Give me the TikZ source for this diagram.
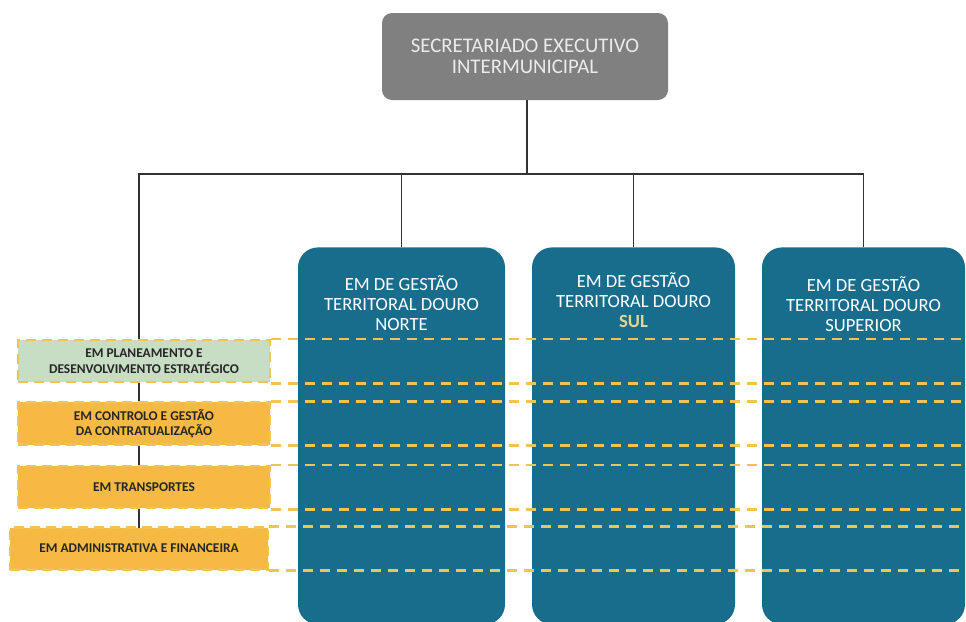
\documentclass[tikz,border=0pt]{standalone}
\usepackage{fontspec}
\setmainfont{Carlito}
\usetikzlibrary{backgrounds}

\definecolor{cinza}{RGB}{128,128,128}
\definecolor{azul}{RGB}{24,108,140}
\definecolor{verde}{RGB}{200,222,196}
\definecolor{laranja}{RGB}{246,186,68}
\definecolor{tracejado}{RGB}{240,196,84}
\definecolor{amarelo}{RGB}{226,214,150}

\tikzset{
   chefia/.style = {rectangle, rounded corners=5pt, fill=cinza, text=white!92!black, align=center,
      minimum width=143pt, minimum height=43.5pt, font=\fontsize{10.4}{10.6}\selectfont},
   gestao/.style = {rectangle, rounded corners=10pt, fill=azul, anchor=north,
      minimum height=188.5pt},
   gestaotxt/.style = {text=white, align=center, font=\fontsize{9.3}{10}\selectfont},
   equipa/.style = {rectangle, fill=laranja, draw=tracejado, line width=1.2pt,
      dash pattern=on 5pt off 3pt, align=center, minimum width=126pt, minimum height=21pt,
      text=black!85, font=\bfseries\fontsize{6.7}{7.8}\selectfont},
   ligacao/.style = {semithick, black!80},
   guia/.style = {draw=tracejado, line width=1.3pt, dash pattern=on 5pt off 3.5pt}
}

\begin{document}
\begin{tikzpicture}[x=0.5pt, y=-0.5pt]
		\useasboundingbox (0,0) rectangle (966,622);
		
		% Top
		\node[chefia] (sec) at (525,56.5) {SECRETARIADO EXECUTIVO\\INTERMUNICIPAL};
		
		% Territorial units
		\node[gestao, minimum width=103.5pt] (norte) at (401.5,247) {};
		\node[gestao, minimum width=101.5pt] (sul) at (633.5,247) {};
		\node[gestao, minimum width=101.5pt] (superior) at (863.5,247) {};
		\node[gestaotxt] (nortetxt) at (401.5,303) {EM DE GESTÃO\\TERRITORAL DOURO\\NORTE};
		\node[gestaotxt] (sultxt) at (633.5,300) {EM DE GESTÃO\\TERRITORAL DOURO\\{\color{amarelo}\bfseries SUL}};
		\node[gestaotxt] (superiortxt) at (863.5,304) {EM DE GESTÃO\\TERRITORAL DOURO\\SUPERIOR};
		
		% Support teams
		\node[equipa, fill=verde] (planeamento) at (144,361) {EM PLANEAMENTO E\\DESENVOLVIMENTO ESTRATÉGICO};
		\node[equipa] (controlo) at (144,423.5) {EM CONTROLO E GESTÃO\\DA CONTRATUALIZAÇÃO};
		\node[equipa] (transportes) at (144,487) {EM TRANSPORTES};
		\node[equipa, minimum width=129pt] (admin) at (139,548.5) {EM ADMINISTRATIVA E FINANCEIRA};
		
		% Lines
		\coordinate (hub) at (527,174);
		\coordinate (fim) at (966,0);
		\begin{scope}[on background layer]
			\draw[ligacao] (sec.south -| hub) -- (hub);
			\draw[ligacao] (hub) -| (admin.center);
			\draw[ligacao] (hub) -| (superior.north);
			\draw[ligacao] (norte.north) |- (hub);
			\draw[ligacao] (sul.north) |- (hub);
		\end{scope}
		
		% Dashed guides
		\foreach \eq in {planeamento,controlo,transportes,admin}
		{
			\draw[guia] (\eq.north east) -- (\eq.north east -| fim);
			\draw[guia] (\eq.south east) -- (\eq.south east -| fim);
		}
	\end{tikzpicture}
\end{document}
